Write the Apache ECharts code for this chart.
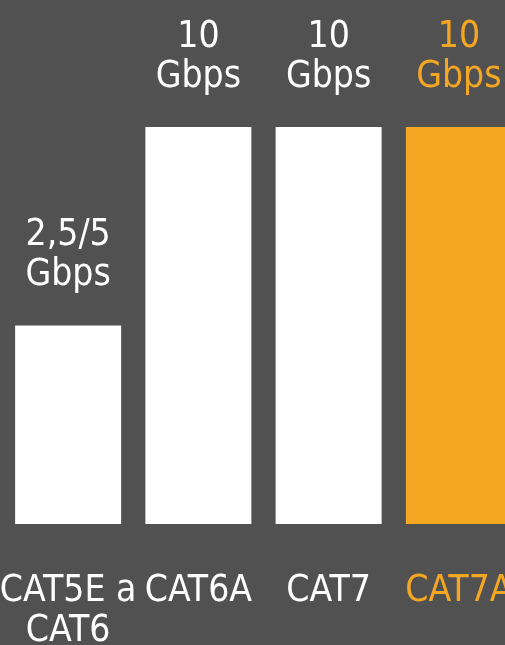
<!DOCTYPE html>
<html><head><meta charset="utf-8">
<script src="https://cdn.jsdelivr.net/npm/echarts@6/dist/echarts.min.js"></script>
<style>html,body{margin:0;padding:0;background:#515151;}#c{width:505px;height:645px;}</style>
</head><body><div id="c"></div>
<script>
const categories = ['CAT5E a\nCAT6', 'CAT6A', 'CAT7', 'CAT7A'];
const speeds = [5, 10, 10, 10];
const speedLabels = ['2,5/5\nGbps', '10\nGbps', '10\nGbps', '10\nGbps'];
const highlight = [false, false, false, true];

const WHITE = '#ffffff', ORANGE = '#f5a623';
const FONT = '"DejaVu Sans", sans-serif';

// render text with the condensed face of the font family
(function () {
  const P = CanvasRenderingContext2D.prototype;
  const d = Object.getOwnPropertyDescriptor(P, 'font');
  if (d && 'fontStretch' in P) {
    Object.defineProperty(P, 'font', {
      configurable: true, get: d.get,
      set(v) { d.set.call(this, v); this.fontStretch = 'condensed'; }
    });
  }
})();

const chart = echarts.init(document.getElementById('c'), null, {renderer: 'canvas'});
chart.setOption({
  backgroundColor: '#515151',
  animation: false,
  grid: {left: 3, width: 521, top: 127, bottom: 121, containLabel: false, outerBoundsMode: 'none'},
  xAxis: {
    type: 'category',
    data: categories.map((c, i) => ({value: c, textStyle: {color: highlight[i] ? ORANGE : WHITE}})),
    axisLine: {show: false}, axisTick: {show: false},
    axisLabel: {interval: 0, fontFamily: FONT, fontSize: 37, lineHeight: 40, margin: 47, color: WHITE, hideOverlap: false}
  },
  yAxis: {type: 'value', min: 0, max: 10, show: false, splitLine: {show: false}},
  series: [{
    type: 'bar',
    barWidth: 106,
    data: speeds.map((v, i) => ({
      value: v,
      itemStyle: {color: highlight[i] ? ORANGE : WHITE},
      label: {color: highlight[i] ? ORANGE : WHITE}
    })),
    label: {
      show: true, position: 'top', distance: 30,
      fontFamily: FONT, fontSize: 37, lineHeight: 40,
      formatter: p => speedLabels[p.dataIndex]
    }
  }]
});
</script></body></html>
